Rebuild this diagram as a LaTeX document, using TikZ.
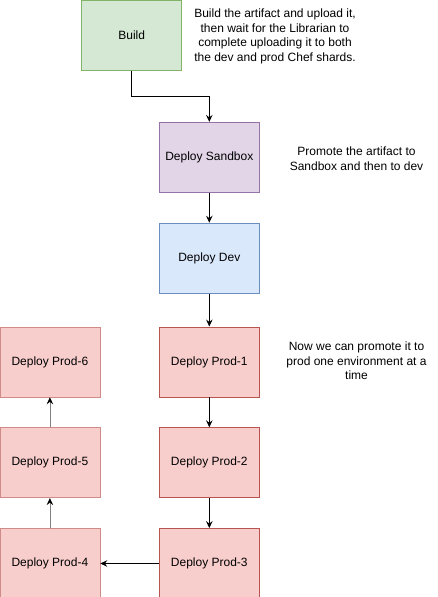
\documentclass[tikz,border=0pt]{standalone}
\usepackage{fontspec}
\setmainfont{Liberation Sans}
\usetikzlibrary{positioning,arrows.meta,calc}

\definecolor{buildfill}{HTML}{D5E8D4}
\definecolor{buildline}{HTML}{82B366}
\definecolor{sbxfill}{HTML}{E1D5E7}
\definecolor{sbxline}{HTML}{9673A6}
\definecolor{devfill}{HTML}{DAE8FC}
\definecolor{devline}{HTML}{6C8EBF}
\definecolor{prodfill}{HTML}{F8CECC}
\definecolor{prodline}{HTML}{B85450}
\definecolor{prodlineb}{HTML}{D08B89}

\tikzset{
  stage/.style={draw,line width=0.8pt,minimum width=100pt,minimum height=70pt,inner sep=0pt,font=\fontsize{12}{14.5}\selectfont},
  note/.style={align=center,inner sep=0pt,font=\fontsize{12}{14.5}\selectfont},
  flow/.style={-{Stealth[length=7pt,width=6.5pt,inset=2.5pt]},line width=0.8pt},
}

\begin{document}
\begin{tikzpicture}[x=1pt,y=1pt,node distance=30pt]
\useasboundingbox (0,0) rectangle (438,-597);

%%%%%%%%%%%%%%%%%%%%%% BUILD AND PROMOTE

\node[stage,fill=buildfill,draw=buildline] (bld) at (131.7,-35.3) {Build};
\node[note] (bldtxt) at (275,-36.5) {Build the artifact and upload it,\\then wait for the Librarian to\\complete uploading it to both\\the dev and prod Chef shards.};

\node[stage,fill=sbxfill,draw=sbxline] (sbx) at (209.3,-157.3) {Deploy Sandbox};
\node[note] (sbxtxt) at (356.5,-158.5) {Promote the artifact to\\Sandbox and then to dev};
\draw[flow] (bld.south) |- ($(bld.south)!.5!(sbx.north)$) -| (sbx.north);

\node[stage,fill=devfill,draw=devline,below=of sbx] (dev) {Deploy Dev};
\draw[flow] (sbx) -- (dev);

%%%%%%%%%%%%%%%%%%%%%% PROD

\node[stage,fill=prodfill,draw=prodline,below=33pt of dev] (p1) {Deploy Prod-1};
\node[note] (p1txt) at (356.5,-361) {Now we can promote it to\\prod one environment at a\\time};
\draw[flow] (dev) -- (p1);

\node[stage,fill=prodfill,draw=prodline,below=of p1] (p2) {Deploy Prod-2};
\draw[flow] (p1) -- (p2);

\node[stage,fill=prodfill,draw=prodline,below=of p2] (p3) {Deploy Prod-3};
\draw[flow] (p2) -- (p3);

\node[stage,fill=prodfill,draw=prodlineb,left=58.6pt of p3] (p4) {Deploy Prod-4};
\draw[flow] (p3) -- (p4);

\node[stage,fill=prodfill,draw=prodlineb,above=of p4] (p5) {Deploy Prod-5};
\draw[flow,draw=gray,-{Stealth[length=7pt,width=6.5pt,inset=2.5pt,black]}] (p4) -- (p5);

\node[stage,fill=prodfill,draw=prodlineb,above=of p5] (p6) {Deploy Prod-6};
\draw[flow,draw=gray,-{Stealth[length=7pt,width=6.5pt,inset=2.5pt,black]}] (p5) -- (p6);

\end{tikzpicture}
\end{document}
